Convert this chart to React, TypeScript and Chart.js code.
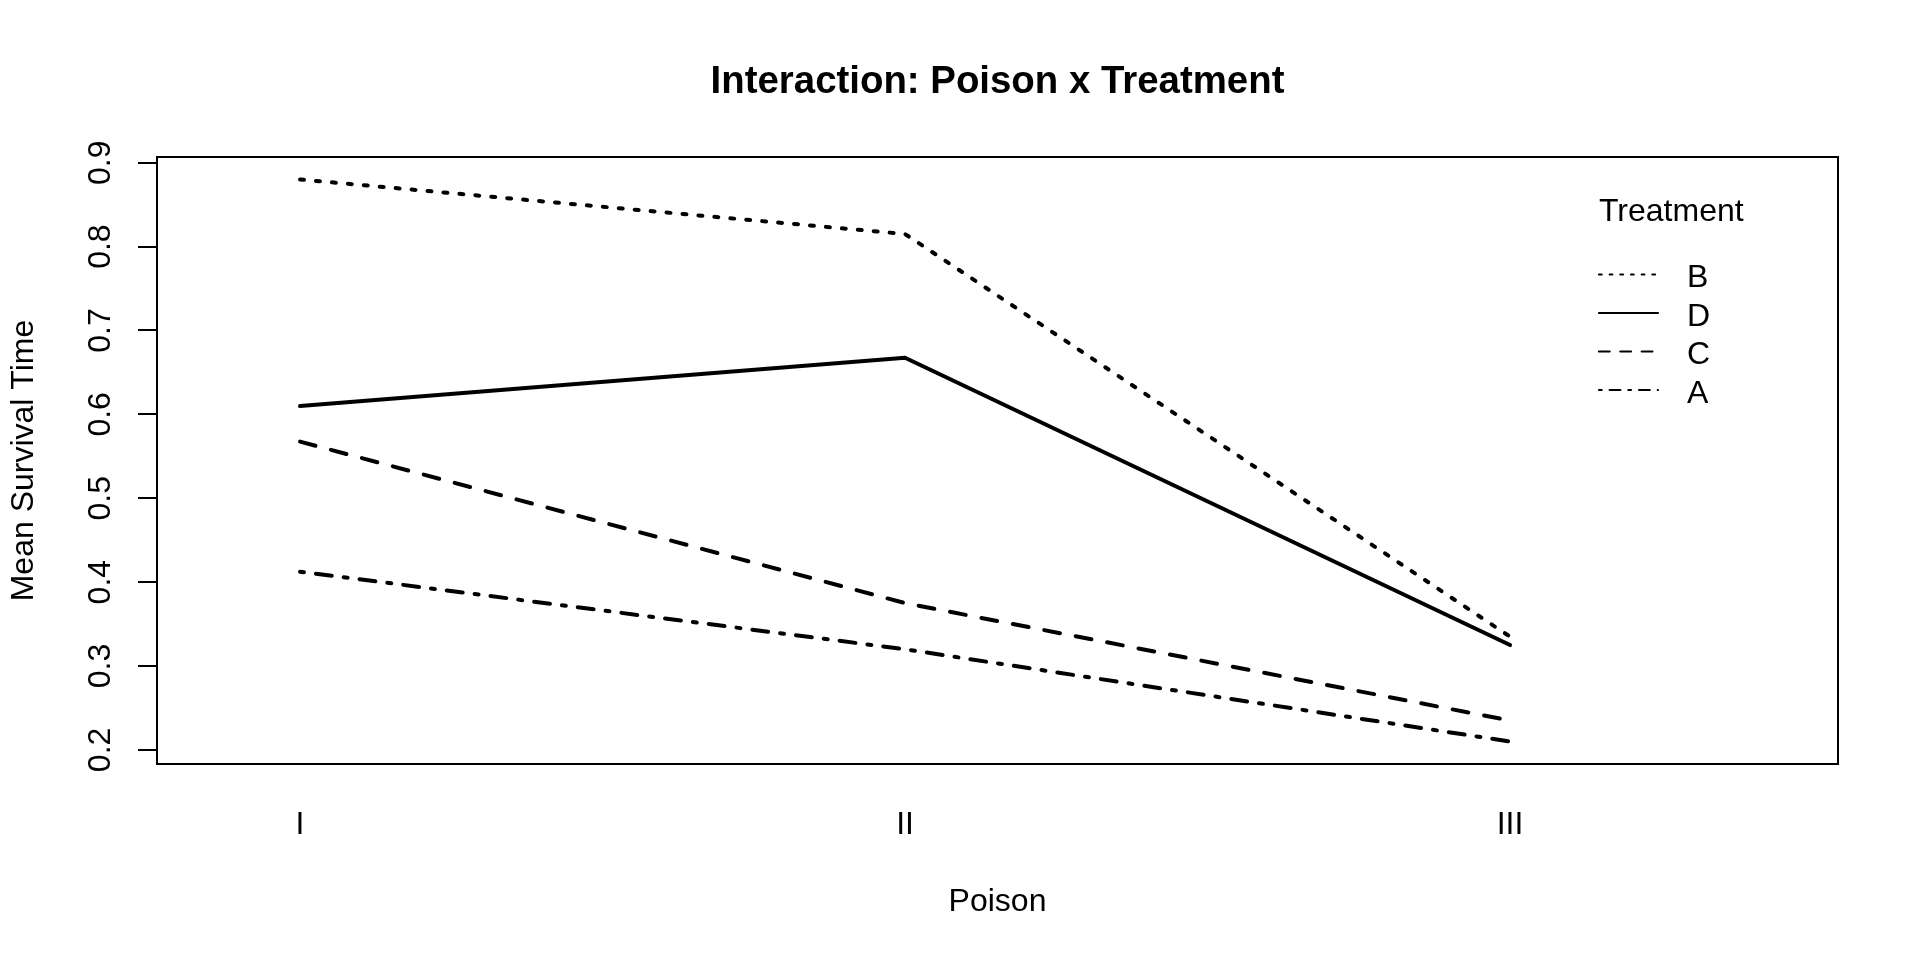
import React, { useEffect, useRef } from "react";
import { Chart, registerables } from "chart.js";

Chart.register(...registerables);

// ---- Data ----
const poisonLevels = ["I", "II", "III"];
const poisonPositions = [1, 2, 3];
const treatments = ["A", "B", "C", "D"];
const meanA = [0.4125, 0.32, 0.21];
const meanB = [0.88, 0.815, 0.335];
const meanC = [0.5675, 0.375, 0.235];
const meanD = [0.61, 0.6675, 0.325];
const seriesValues = [meanA, meanB, meanC, meanD];
const yTickValues = [0.2, 0.3, 0.4, 0.5, 0.6, 0.7, 0.8, 0.9];
const yTickLabels = ["0.2", "0.3", "0.4", "0.5", "0.6", "0.7", "0.8", "0.9"];

const chartTitle = "Interaction: Poison x Treatment";
const xTitle = "Poison";
const yTitle = "Mean Survival Time";
const legendTitle = "Treatment";

// ---- Styles ----
const FONT = '"Liberation Sans", Arial, Helvetica, sans-serif';
// R line types: 1 solid, 2 dashed, 3 dotted, 4 dotdash
const ltyPatterns: Record<number, number[]> = {
  1: [],
  2: [4, 4],
  3: [1, 3],
  4: [1, 3, 4, 3],
};
const treatmentLty: Record<string, number> = { A: 4, B: 3, C: 2, D: 1 };
const dashFor = (t: string, unit: number) =>
  ltyPatterns[treatmentLty[t]].map((v) => v * unit);

const LEFT_PAD = 75; // so the title centres over the plot region

const boxPlugin = {
  id: "rBox",
  afterDraw(chart: any) {
    const { ctx, chartArea } = chart;
    ctx.save();
    ctx.strokeStyle = "#000";
    ctx.lineWidth = 2;
    ctx.setLineDash([]);
    ctx.strokeRect(
      chartArea.left,
      chartArea.top,
      chartArea.right - chartArea.left,
      chartArea.bottom - chartArea.top
    );
    ctx.restore();
  },
};

const yLabelPlugin = {
  id: "rYLabels",
  afterDraw(chart: any) {
    const { ctx, chartArea } = chart;
    const y = chart.scales.y;
    ctx.save();
    ctx.fillStyle = "#000";
    ctx.font = `32px ${FONT}`;
    ctx.textAlign = "center";
    ctx.textBaseline = "alphabetic";
    yTickValues.forEach((v, i) => {
      const py = y.getPixelForValue(v);
      ctx.save();
      ctx.translate(chartArea.left - 58.5, py);
      ctx.rotate(-Math.PI / 2);
      ctx.fillText(yTickLabels[i], 0, 11.5);
      ctx.restore();
    });
    ctx.restore();
  },
};

const legendPlugin = {
  id: "rLegend",
  afterDraw(chart: any) {
    const { ctx, chartArea } = chart;
    const x0 = chartArea.right - 239;
    const lineEnd = x0 + 59;
    const textX = x0 + 88;
    const titleBase = chartArea.top + 63.7;
    const firstY = chartArea.top + 117.5;
    const step = 38.5;
    const datasets = chart.data.datasets as any[];
    const order = datasets
      .map((d, i) => ({ label: d.label as string, last: seriesValues[i][seriesValues[i].length - 1] }))
      .sort((a, b) => b.last - a.last);
    ctx.save();
    ctx.fillStyle = "#000";
    ctx.strokeStyle = "#000";
    ctx.font = `32px ${FONT}`;
    ctx.textAlign = "left";
    ctx.textBaseline = "alphabetic";
    ctx.fillText(legendTitle, x0, titleBase);
    order.forEach((item, i) => {
      const ly = firstY + i * step;
      ctx.beginPath();
      ctx.lineWidth = 2.2;
      ctx.lineCap = "round";
      ctx.setLineDash(dashFor(item.label, 2.67));
      ctx.moveTo(x0, ly);
      ctx.lineTo(lineEnd, ly);
      ctx.stroke();
      ctx.setLineDash([]);
      ctx.fillText(item.label, textX, ly + 12.5);
    });
    ctx.restore();
  },
};

export default function App() {
  const ref = useRef<HTMLCanvasElement>(null);

  useEffect(() => {
    document.body.style.margin = "0";
    const canvas = ref.current;
    if (!canvas) return;
    const chart = new Chart(canvas, {
      type: "line",
      data: {
        datasets: treatments.map((t, i) => ({
          label: t,
          data: poisonPositions.map((x, j) => ({ x, y: seriesValues[i][j] })),
          borderColor: "#000",
          backgroundColor: "#000",
          borderWidth: 4,
          borderDash: dashFor(t, 4),
          borderCapStyle: "round",
          borderJoinStyle: "round",
          pointRadius: 0,
          pointHoverRadius: 0,
          fill: false,
          tension: 0,
          yAxisID: "y",
          xAxisID: "x",
        })),
      } as any,
      options: {
        responsive: false,
        devicePixelRatio: 1,
        animation: false,
        events: [],
        layout: { padding: { top: 0, right: 0, bottom: 0, left: LEFT_PAD } },
        plugins: {
          legend: { display: false },
          tooltip: { enabled: false },
          title: {
            display: true,
            text: chartTitle,
            color: "#000",
            font: { family: FONT, size: 38.4, weight: "bold", lineHeight: 1.2 },
            padding: { top: 59.5, bottom: 51.42 },
          },
        },
        scales: {
          x: {
            type: "linear",
            position: "bottom",
            min: 0.7636,
            max: 3.5421,
            afterBuildTicks: (s: any) => {
              s.ticks = poisonPositions.map((v) => ({ value: v }));
            },
            afterFit: (s: any) => {
              s.height = 196;
            },
            ticks: {
              autoSkip: false,
              maxRotation: 0,
              minRotation: 0,
              color: "#000",
              padding: 33.8,
              font: { family: FONT, size: 32, lineHeight: 1.2 },
              callback: (v: any) => {
                const idx = poisonPositions.indexOf(Number(v));
                return idx >= 0 ? poisonLevels[idx] : "";
              },
            },
            grid: { display: false },
            border: { display: false },
            title: {
              display: true,
              text: xTitle,
              color: "#000",
              font: { family: FONT, size: 32, lineHeight: 1.2 },
              padding: { top: 0, bottom: 38.3 },
            },
          },
          y: {
            type: "linear",
            position: "left",
            min: 0.1832,
            max: 0.9068,
            afterBuildTicks: (s: any) => {
              s.ticks = yTickValues.map((v) => ({ value: v }));
            },
            afterFit: (s: any) => {
              s.width = 157 - LEFT_PAD;
            },
            ticks: { display: false },
            grid: {
              display: true,
              drawOnChartArea: false,
              drawTicks: true,
              tickLength: 19,
              tickWidth: 2,
              tickColor: "#000",
              color: "#000",
              lineWidth: 2,
            },
            border: { display: false },
            title: {
              display: true,
              text: yTitle,
              color: "#000",
              font: { family: FONT, size: 32, lineHeight: 1.2 },
              padding: { top: 24.5 - 19.2 - LEFT_PAD, bottom: 0 },
            },
          },
          yRight: {
            type: "linear",
            position: "right",
            display: true,
            afterFit: (s: any) => {
              s.width = 82;
            },
            ticks: { display: false },
            grid: { display: false, drawTicks: false },
            border: { display: false },
            title: { display: false },
          },
        },
      } as any,
      plugins: [boxPlugin, yLabelPlugin, legendPlugin],
    });
    return () => chart.destroy();
  }, []);

  return (
    <canvas
      ref={ref}
      width={1920}
      height={960}
      style={{ display: "block", width: "1920px", height: "960px" }}
    />
  );
}
